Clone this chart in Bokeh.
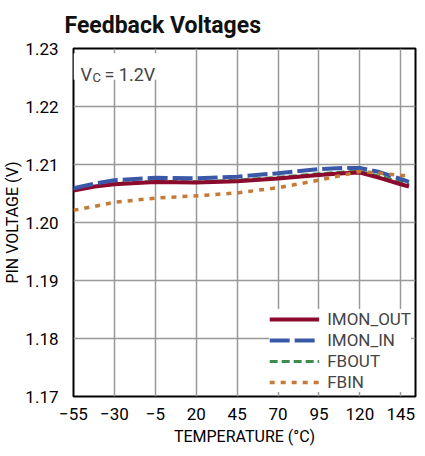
from bokeh.plotting import figure
from bokeh.models import Range1d, FixedTicker, Legend, LegendItem, Label, BoxAnnotation
from bokeh.embed import file_html
from bokeh.resources import INLINE

FONT = "Roboto"

temperature = [-55, -42, -30, -5, 20, 45, 70, 95, 110, 120, 132, 145, 150]
imon_out = [1.2055, 1.2062, 1.2066, 1.2070, 1.2069, 1.2071, 1.2076, 1.2082, 1.2085, 1.2086, 1.2077, 1.2066, 1.2062]
imon_in = [1.2059, 1.2067, 1.2073, 1.2077, 1.2076, 1.2079, 1.2085, 1.2092, 1.2094, 1.2094, 1.2087, 1.2075, 1.2070]
fbout = [1.2056, 1.2063, 1.2067, 1.2071, 1.2070, 1.2073, 1.2078, 1.2084, 1.2087, 1.2088, 1.2080, 1.2070, 1.2066]
fbin = [1.2021, 1.2028, 1.2035, 1.2042, 1.2046, 1.2051, 1.2060, 1.2073, 1.2082, 1.2088, 1.2085, 1.2081, 1.2081]

x_ticks = [-55, -30, -5, 20, 45, 70, 95, 120, 145]
x_tick_labels = ["\u221255", "\u221230", "\u22125", "20", "45", "70", "95", "120", "145"]
y_ticks = [1.17, 1.18, 1.19, 1.20, 1.21, 1.22, 1.23]
y_tick_labels = ["1.17", "1.18", "1.19", "1.20", "1.21", "1.22", "1.23"]

p = figure(width=417, height=448, output_backend="svg", toolbar_location=None,
           x_range=Range1d(-55, 154), y_range=Range1d(1.17, 1.23),
           min_border_left=64, min_border_right=2, min_border_top=47, min_border_bottom=49)

p.title.text = "Feedback Voltages"
p.title.text_font = FONT
p.title.text_font_style = "bold"
p.title.text_font_size = "23px"
p.title.text_color = "#111111"
p.title.standoff = 19
p.title.offset = -9

p.xaxis.ticker = FixedTicker(ticks=x_ticks)
p.xaxis.major_label_overrides = dict(zip(x_ticks, x_tick_labels))
p.yaxis.ticker = FixedTicker(ticks=y_ticks)
p.yaxis.major_label_overrides = dict(zip(y_ticks, y_tick_labels))

p.xaxis.axis_label = "TEMPERATURE (\u00b0C)"
p.yaxis.axis_label = "PIN VOLTAGE (V)"
for ax in (p.xaxis, p.yaxis):
    ax.axis_label_text_font = FONT
    ax.axis_label_text_font_style = "normal"
    ax.axis_label_text_font_size = "16px"
    ax.axis_label_text_color = "black"
    ax.major_label_text_font = FONT
    ax.major_label_text_font_size = "17px"
    ax.major_label_text_color = "black"
    ax.axis_line_color = None
    ax.major_tick_line_color = None
    ax.minor_tick_line_color = None
p.yaxis.major_label_standoff = 9
p.xaxis.major_label_standoff = 5
p.xaxis.axis_label_standoff = 4
p.yaxis.axis_label_standoff = 0

p.grid.grid_line_color = "#999999"
p.grid.grid_line_width = 1.5
p.outline_line_color = "black"
p.outline_line_width = 2
p.outline_line_alpha = 1

r_fbout = p.line(temperature, fbout, line_color="#3C8C4C", line_width=3, line_dash="8 4")
r_out = p.line(temperature, imon_out, line_color="#8C0A2E", line_width=4)
r_in = p.line(temperature, imon_in, line_color="#3A58A8", line_width=4, line_dash="20 5")
r_fbin = p.line(temperature, fbin, line_color="#C47A38", line_width=3.5, line_dash="5 6")

legend = Legend(items=[
    LegendItem(label="IMON_OUT", renderers=[r_out]),
    LegendItem(label="IMON_IN", renderers=[r_in]),
    LegendItem(label="FBOUT", renderers=[r_fbout]),
    LegendItem(label="FBIN", renderers=[r_fbin]),
], location="bottom_right", margin=4, padding=6, spacing=1, label_height=20,
   glyph_width=50, glyph_height=20, label_standoff=8,
   label_text_font=FONT, label_text_font_size="17px",
   border_line_color=None, background_fill_color="white", background_fill_alpha=1)
p.add_layout(legend)

p.add_layout(BoxAnnotation(left=-55, right=0, top=1.2292, bottom=1.2246,
                           fill_color="white", fill_alpha=1, line_alpha=0))
p.add_layout(Label(x=-55, y=1.23, x_offset=7, y_offset=-26, text="V",
                   text_font=FONT, text_font_size="18px", text_baseline="alphabetic"))
p.add_layout(Label(x=-55, y=1.23, x_offset=19, y_offset=-29, text="C",
                   text_font=FONT, text_font_size="13px", text_baseline="alphabetic"))
p.add_layout(Label(x=-55, y=1.23, x_offset=31, y_offset=-26, text="= 1.2V",
                   text_font=FONT, text_font_size="18px", text_baseline="alphabetic"))

open("out.html", "w").write(file_html(p, INLINE))
